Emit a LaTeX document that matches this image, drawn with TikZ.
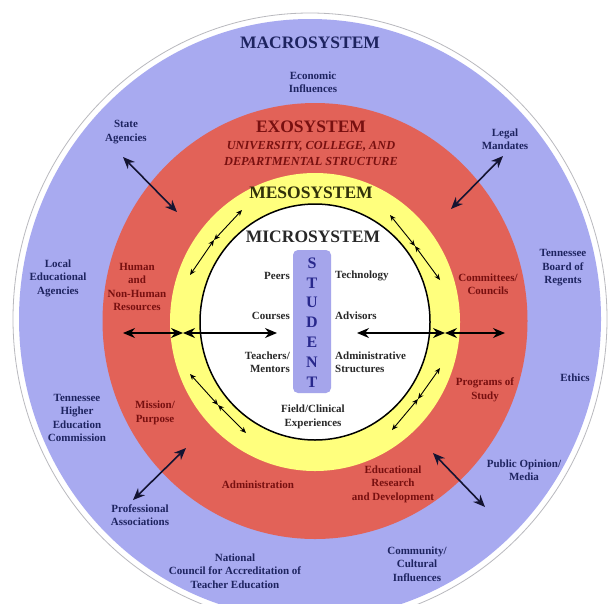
\documentclass[tikz,border=0pt]{standalone}
\usepackage{fontspec}
\setmainfont{Liberation Serif}
\usetikzlibrary{arrows.meta}
\definecolor{macroblue}{RGB}{168,170,240}
\definecolor{exored}{RGB}{226,98,88}
\definecolor{mesoyellow}{RGB}{255,255,125}
\definecolor{navytxt}{RGB}{30,36,96}
\definecolor{redtxt}{RGB}{120,16,16}
\definecolor{olivetxt}{RGB}{50,50,10}
\definecolor{microtxt}{RGB}{40,40,40}
\definecolor{studtxt}{RGB}{40,40,140}
\definecolor{studbox}{RGB}{165,165,235}
\definecolor{rimgray}{RGB}{185,185,190}
\definecolor{arrowcol}{RGB}{20,20,50}
\begin{document}
\begin{tikzpicture}[x=1pt,y=-1pt,
  lbl/.style={font=\fontsize{11}{13.5}\selectfont\bfseries, align=center, inner sep=0pt},
  macrolbl/.style={lbl, text=navytxt},
  exolbl/.style={lbl, text=redtxt},
  microlbl/.style={lbl, text=microtxt},
  systitle/.style={font=\fontsize{17.5}{20}\selectfont\bfseries, inner sep=0pt},
  bigarrow/.style={draw=arrowcol, line width=1.6pt, {Stealth[length=12pt,width=10pt]}-{Stealth[length=12pt,width=10pt]}},
  harrow/.style={draw=black, line width=1.3pt, {Stealth[length=12pt,width=10pt]}-{Stealth[length=12pt,width=10pt]}},
  ringarrow/.style={draw=black, line width=0.9pt, {Stealth[length=6pt,width=5pt]}-{Stealth[length=6pt,width=5pt]}},
  letter/.style={font=\fontsize{16}{16}\selectfont\bfseries, text=studtxt, inner sep=0pt}
]
\useasboundingbox (0,0) rectangle (609,603);
\clip (0,0) rectangle (609,603);
\fill[white] (0,0) rectangle (609,603);

% rings
\draw[rimgray, line width=0.8pt, fill=white] (310,319) ellipse [x radius=297pt, y radius=306pt];
\fill[macroblue] (310,319) ellipse [x radius=291pt, y radius=300pt];
\fill[exored] (315,321) ellipse [x radius=212.5pt, y radius=218pt];
\fill[mesoyellow] (315,322) ellipse [x radius=145pt, y radius=149pt];
\draw[black, line width=1.5pt, fill=white] (315,322) ellipse [x radius=115pt, y radius=118pt];

% titles
\node[systitle, text=navytxt] (macro) at (310,43) {MACROSYSTEM};
\node[systitle, text=redtxt] (exo) at (311,127) {EXOSYSTEM};
\node[font=\fontsize{12.3}{16}\selectfont\bfseries\itshape, text=redtxt, align=center, inner sep=0pt] (exosub) at (311,153) {UNIVERSITY, COLLEGE, AND\\DEPARTMENTAL STRUCTURE};
\node[systitle, text=olivetxt] (meso) at (311,193) {MESOSYSTEM};
\node[systitle, text=microtxt] (micro) at (313,237) {MICROSYSTEM};

% macro labels
\node[macrolbl] (econ) at (313,82) {Economic\\Influences};
\node[macrolbl] (state) at (126,132) {State\\Agencies};
\node[macrolbl] (legal) at (505,139) {Legal\\Mandates};
\node[macrolbl] (local) at (58,278) {Local\\Educational\\Agencies};
\node[macrolbl] (tbr) at (563,268) {Tennessee\\Board of\\Regents};
\node[macrolbl] (ethics) at (575,378) {Ethics};
\node[macrolbl] (thec) at (77,418) {Tennessee\\Higher\\Education\\Commission};
\node[macrolbl] (public) at (524,470) {Public Opinion/\\Media};
\node[macrolbl] (prof) at (140,515) {Professional\\Associations};
\node[macrolbl] (ncate) at (235,571) {National\\Council for Accreditation of\\Teacher Education};
\node[macrolbl] (comm) at (417,564) {Community/\\Cultural\\Influences};

% exo labels
\node[exolbl] (human) at (137,287) {Human\\and\\Non-Human\\Resources};
\node[exolbl] (committees) at (488,284) {Committees/\\Councils};
\node[exolbl] (mission) at (155,413) {Mission/\\Purpose};
\node[exolbl] (programs) at (485,390) {Programs of\\Study};
\node[exolbl] (admin) at (258,485) {Administration};
\node[exolbl] (edres) at (393,484) {Educational\\Research\\and Development};

% micro labels
\node[microlbl, anchor=east, align=right] (peers) at (290,276) {Peers};
\node[microlbl, anchor=east, align=right] (courses) at (290,316) {Courses};
\node[microlbl, anchor=east, align=right] (teachers) at (290,362) {Teachers/\\Mentors};
\node[microlbl, anchor=west, align=left] (tech) at (335,276) {Technology};
\node[microlbl, anchor=west, align=left] (advisors) at (335,316) {Advisors};
\node[microlbl, anchor=west, align=left] (adminstr) at (335,362) {Administrative\\Structures};
\node[microlbl] (field) at (313,417) {Field/Clinical\\Experiences};

% student box
\node[fill=studbox, rounded corners=5pt, minimum width=38pt, minimum height=143pt, inner sep=0pt] (studentbox) at (312,321.5) {};
\node[letter] (s1) at (312,263) {S};
\node[letter] (s2) at (312,283) {T};
\node[letter] (s3) at (312,302) {U};
\node[letter] (s4) at (312,322) {D};
\node[letter] (s5) at (312,342) {E};
\node[letter] (s6) at (312,362) {N};
\node[letter] (s7) at (312,382) {T};

% arrow coordinates
\coordinate (hl1) at (123,333);
\coordinate (hl2) at (183,333);
\coordinate (hl3) at (277,333);
\coordinate (hr1) at (357,333);
\coordinate (hr2) at (445,333);
\coordinate (hr3) at (505,333);

\coordinate (nwa) at (123,157); \coordinate (nwb) at (177,212);
\coordinate (nea) at (503,156); \coordinate (neb) at (451,209);
\coordinate (swa) at (186,448); \coordinate (swb) at (133,500);
\coordinate (sea) at (433,453); \coordinate (seb) at (485,507);

\coordinate (rnw1) at (242,210); \coordinate (rnw2) at (214,240); \coordinate (rnw3) at (190,275);
\coordinate (rne1) at (390,215); \coordinate (rne2) at (415,246); \coordinate (rne3) at (440,280);
\coordinate (rsw1) at (190,374); \coordinate (rsw2) at (218,405); \coordinate (rsw3) at (246,433);
\coordinate (rse1) at (440,368); \coordinate (rse2) at (418,399); \coordinate (rse3) at (392,430);

% horizontal arrows
\draw[harrow] (hl1) -- (hl2);
\draw[harrow] (hl2) -- (hl3);
\draw[harrow] (hr1) -- (hr2);
\draw[harrow] (hr2) -- (hr3);

% big diagonal arrows
\draw[bigarrow] (nwa) -- (nwb);
\draw[bigarrow] (nea) -- (neb);
\draw[bigarrow] (swa) -- (swb);
\draw[bigarrow] (sea) -- (seb);

% ring arrows
\draw[ringarrow] (rnw1) -- (rnw2);
\draw[ringarrow] (rnw2) -- (rnw3);
\draw[ringarrow] (rne1) -- (rne2);
\draw[ringarrow] (rne2) -- (rne3);
\draw[ringarrow] (rsw1) -- (rsw2);
\draw[ringarrow] (rsw2) -- (rsw3);
\draw[ringarrow] (rse1) -- (rse2);
\draw[ringarrow] (rse2) -- (rse3);
\end{tikzpicture}
\end{document}
